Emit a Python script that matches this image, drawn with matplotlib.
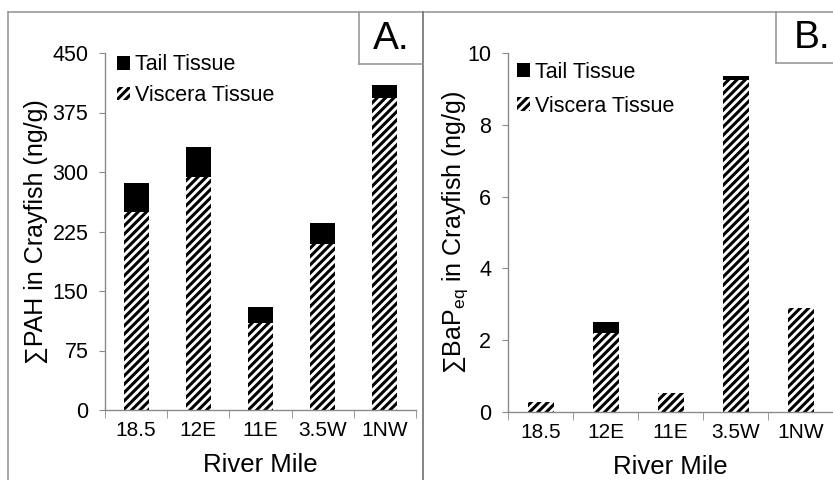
import numpy as np
import matplotlib
matplotlib.use('Agg')
import matplotlib.pyplot as plt
from matplotlib.patches import Patch
from matplotlib.lines import Line2D

plt.rcParams['font.family'] = ['Liberation Sans', 'DejaVu Sans']
plt.rcParams['mathtext.fontset'] = 'custom'
plt.rcParams['mathtext.rm'] = 'Liberation Sans'
plt.rcParams['mathtext.it'] = 'Liberation Sans'
plt.rcParams['hatch.linewidth'] = 2.2

# data
sites = ['18.5', '12E', '11E', '3.5W', '1NW']
pah_viscera = [250, 294, 110, 209, 393]
pah_tail = [36, 38, 20, 27, 17]
bap_viscera = [0.29, 2.19, 0.54, 9.25, 2.89]
bap_tail = [0.0, 0.33, 0.0, 0.12, 0.0]

AXIS_GREY = '#8a8a8a'
FRAME_GREY = '#9a9a9a'

fig = plt.figure(figsize=(8.33, 4.8), dpi=100)
W, H = 833.0, 480.0


def fx(px):
    return px / W


def fy(py):
    return 1 - py / H


def draw_panel(ax, viscera, tail, ymax, step, ylabel, legend_xy, spacing,
               ylabelpad):
    x = np.arange(len(sites))
    ax.bar(x, viscera, width=0.4, color='white', edgecolor='black',
           hatch='////', linewidth=0, zorder=2)
    ax.bar(x, tail, width=0.4, bottom=viscera, color='black',
           linewidth=0, zorder=2)

    ax.set_xlim(-0.5, len(sites) - 0.5)
    ax.set_ylim(0, ymax)
    ax.set_yticks(np.arange(0, ymax + step / 2, step))
    ax.set_xticks(x)
    ax.set_xticklabels(sites, fontsize=15)
    ax.set_xticks(np.arange(-0.5, len(sites)), minor=True)
    ax.tick_params(axis='x', which='major', length=0, pad=8)
    ax.tick_params(axis='x', which='minor', length=6, color=AXIS_GREY,
                   direction='out')
    ax.tick_params(axis='y', length=4, color=AXIS_GREY, labelsize=15.5, pad=8)

    for s in ['top', 'right']:
        ax.spines[s].set_visible(False)
    for s in ['left', 'bottom']:
        ax.spines[s].set_color(AXIS_GREY)
        ax.spines[s].set_linewidth(1)

    ax.set_xlabel('River Mile', fontsize=18.5, labelpad=9)
    ax.set_ylabel(ylabel, fontsize=18, labelpad=ylabelpad)

    handles = [Patch(facecolor='black', edgecolor='black', linewidth=0),
               Patch(facecolor='white', edgecolor='black', hatch='////',
                     linewidth=0)]
    ax.legend(handles, ['Tail Tissue', 'Viscera Tissue'], loc='upper left',
              bbox_to_anchor=legend_xy, frameon=False, fontsize=15.5,
              handlelength=0.6, handleheight=0.6, handletextpad=0.25,
              labelspacing=spacing, borderaxespad=0)


# panel A
axA = fig.add_axes([fx(105), fy(410), fx(416) - fx(105), fy(53) - fy(410)])
draw_panel(axA, pah_viscera, pah_tail, 450, 75,
           '\u2211PAH in Crayfish (ng/g)', (0.01, 1.02), 0.45, 3)

# panel B
axB = fig.add_axes([fx(508), fy(412), fx(833) - fx(508), fy(53) - fy(412)])
draw_panel(axB, bap_viscera, bap_tail, 10, 2,
           '\u2211BaP$_{\\mathrm{eq}}$ in Crayfish (ng/g)', (0.0, 1.0), 0.6, -2)


# panel frames
def fline(x0, y0, x1, y1, color=FRAME_GREY, lw=1.2):
    fig.add_artist(Line2D([fx(x0), fx(x1)], [fy(y0), fy(y1)],
                          color=color, linewidth=lw))


fline(8, 12, 423, 12)
fline(8, 12, 8, 480)
fline(423, 12, 423, 480, color='#707070')
fline(359, 12, 359, 64)
fline(359, 64, 423, 64)
fline(425, 12, 833, 12)
fline(776, 12, 776, 63)
fline(776, 63, 833, 63)

fig.text(fx(391), fy(39), 'A.', fontsize=28, ha='center', va='center')
fig.text(fx(812), fy(38), 'B.', fontsize=28, ha='center', va='center')

fig.savefig('out.png', dpi=100)
